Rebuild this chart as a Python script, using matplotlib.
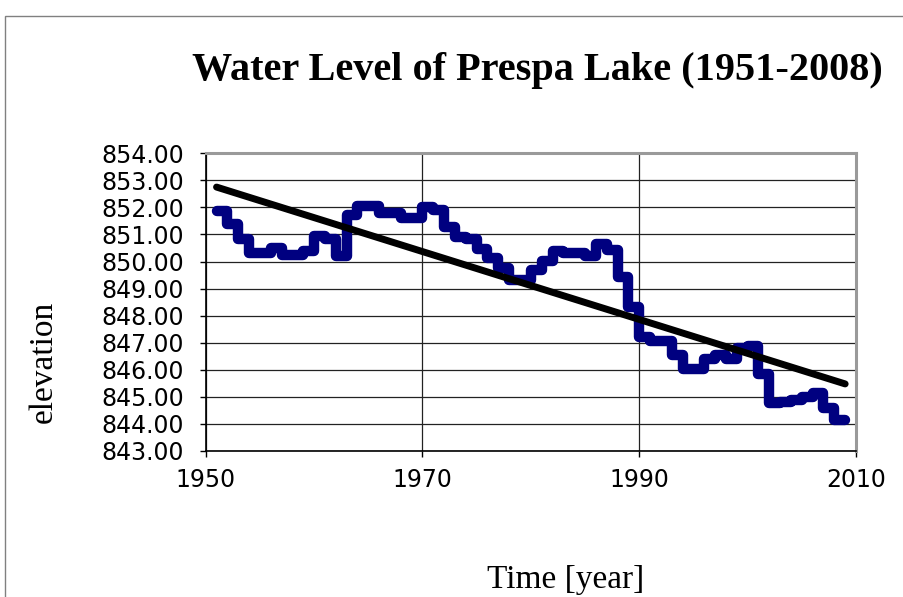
import numpy as np
import matplotlib
matplotlib.use('Agg')
import matplotlib.pyplot as plt
from matplotlib.patches import Rectangle

# Annual water level (m a.s.l.), value held from the given year to the next
years = list(range(1951, 2009))
levels = [
    851.88, 851.40, 850.85, 850.30, 850.30, 850.50, 850.25, 850.25, 850.38, 850.95,
    850.85, 850.20, 851.72, 852.05, 852.05, 851.80, 851.80, 851.60, 851.60, 852.00,
    851.90, 851.28, 850.90, 850.85, 850.48, 850.13, 849.78, 849.32, 849.32, 849.68,
    850.03, 850.38, 850.33, 850.32, 850.22, 850.66, 850.43, 849.43, 848.32, 847.22,
    847.07, 847.07, 846.55, 846.03, 846.03, 846.40, 846.55, 846.40, 846.80, 846.88,
    845.86, 844.78, 844.80, 844.88, 844.98, 845.15, 844.60, 844.14,
]

x_ticks = [1950, 1970, 1990, 2010]
y_ticks = list(range(843, 855))

title = 'Water Level of Prespa Lake (1951-2008)'
x_label = 'Time [year]'
y_label = 'elevation'

W, H = 904, 597
fig = plt.figure(figsize=(W / 100, H / 100), dpi=100)

# Outer chart frame (only top and left edges are visible in the reference)
fig.patches.append(Rectangle((5.5 / W, -0.2), 1.2, 1.2 - 15.5 / H,
                             transform=fig.transFigure, fill=False,
                             edgecolor='#808080', linewidth=1.0))

ax = fig.add_axes([205.7 / W, 1 - 451 / H, (856 - 205.7) / W, (451 - 153.3) / H])

edges = np.append(years, years[-1] + 1)
ax.stairs(levels, edges, baseline=None, color='#000080', linewidth=7.5,
          joinstyle='round', capstyle='round', zorder=3)

# Linear trend fitted on the yearly values
coef = np.polyfit(np.array(years) + 0.5, levels, 1)
tx = np.array([edges[0], edges[-1]])
ax.plot(tx, np.polyval(coef, tx), color='black', linewidth=5.0,
        solid_capstyle='round', zorder=4)

ax.set_xlim(1950, 2010)
ax.set_ylim(843, 854)
ax.set_xticks(x_ticks)
ax.set_yticks(y_ticks)
ax.set_yticklabels([f'{v:.2f}' for v in y_ticks])
ax.tick_params(axis='both', direction='out', length=4.5, width=1, color='black',
               labelsize=17)
ax.tick_params(axis='y', pad=11)
ax.tick_params(axis='x', pad=8)
for lab in ax.get_xticklabels() + ax.get_yticklabels():
    lab.set_fontfamily('DejaVu Sans')

ax.grid(True, color='#222222', linewidth=0.9, zorder=1)
ax.set_axisbelow(True)

for side in ('top', 'right'):
    ax.spines[side].set_color('#9a9a9a')
    ax.spines[side].set_linewidth(2.2)
for side in ('left', 'bottom'):
    ax.spines[side].set_color('black')
    ax.spines[side].set_linewidth(1.2)

fig.text(537 / W, 1 - 80 / H, title, ha='center', va='baseline',
         fontsize=29, fontweight='bold', family='Liberation Serif')
fig.text(566 / W, 1 - 588 / H, x_label, ha='center', va='baseline',
         fontsize=24, family='Liberation Serif')
fig.text(44 / W, 1 - 362 / H, y_label, ha='center', va='center', rotation=90,
         fontsize=24, family='Liberation Serif')

fig.savefig('out.png', dpi=100)
